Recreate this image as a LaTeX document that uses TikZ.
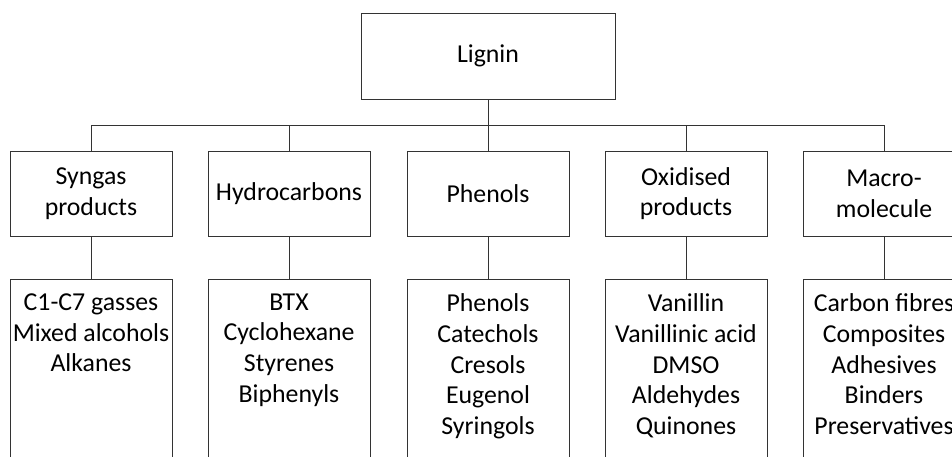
\documentclass[tikz,border=0pt]{standalone}
\usepackage{fontspec}
\setmainfont{Carlito}
\begin{document}
\begin{tikzpicture}[x=1pt,y=-1pt,
  box/.style={draw=black!80, line width=0.9pt, fill=white, minimum width=162pt, inner sep=0pt},
  topbox/.style={box, minimum width=254pt, minimum height=86pt},
  midbox/.style={box, minimum height=85pt},
  lowbox/.style={box, minimum height=220pt, anchor=north},
  lowtext/.style={anchor=north, align=center, inner sep=0pt},
  conn/.style={draw=black!80, line width=0.9pt},
  every node/.style={font=\fontsize{25.8}{30.7}\selectfont}]
\useasboundingbox (0,0) rectangle (952,456);
\clip (0,0) rectangle (952,456);
\fill[white] (0,0) rectangle (952,456);

\node[topbox] (lig) at (488,56) {Lignin};
\coordinate (bus) at (488,125);

\foreach \i/\x/\t in {1/91/{Syngas\\products}, 2/289/{Hydrocarbons}, 3/488/{Phenols}, 4/686/{Oxidised\\products}, 5/884/{Macro-\\molecule}}{
  \node[midbox, align=center] (m\i) at (\x,193.5) {\t};
  \coordinate (b\i) at (\x,125);
  \node[lowbox] (l\i) at (\x,279) {};
}

\node[lowtext] (t1) at (91,293.5) {C1-C7 gasses\\Mixed alcohols\\Alkanes};
\node[lowtext] (t2) at (289,293.5) {BTX\\Cyclohexane\\Styrenes\\Biphenyls};
\node[lowtext] (t3) at (488,293.5) {Phenols\\Catechols\\Cresols\\Eugenol\\Syringols};
\node[lowtext] (t4) at (686,293.5) {Vanillin\\Vanillinic acid\\DMSO\\Aldehydes\\Quinones};
\node[lowtext] (t5) at (884,293.5) {Carbon fibres\\Composites\\Adhesives\\Binders\\Preservatives};

\draw[conn] (lig.south) -- (bus);
\draw[conn] (b1) -- (b5);
\foreach \i in {1,...,5}{
  \draw[conn] (b\i) -- (m\i.north);
  \draw[conn] (m\i.south) -- (l\i.north);
}
\end{tikzpicture}
\end{document}
